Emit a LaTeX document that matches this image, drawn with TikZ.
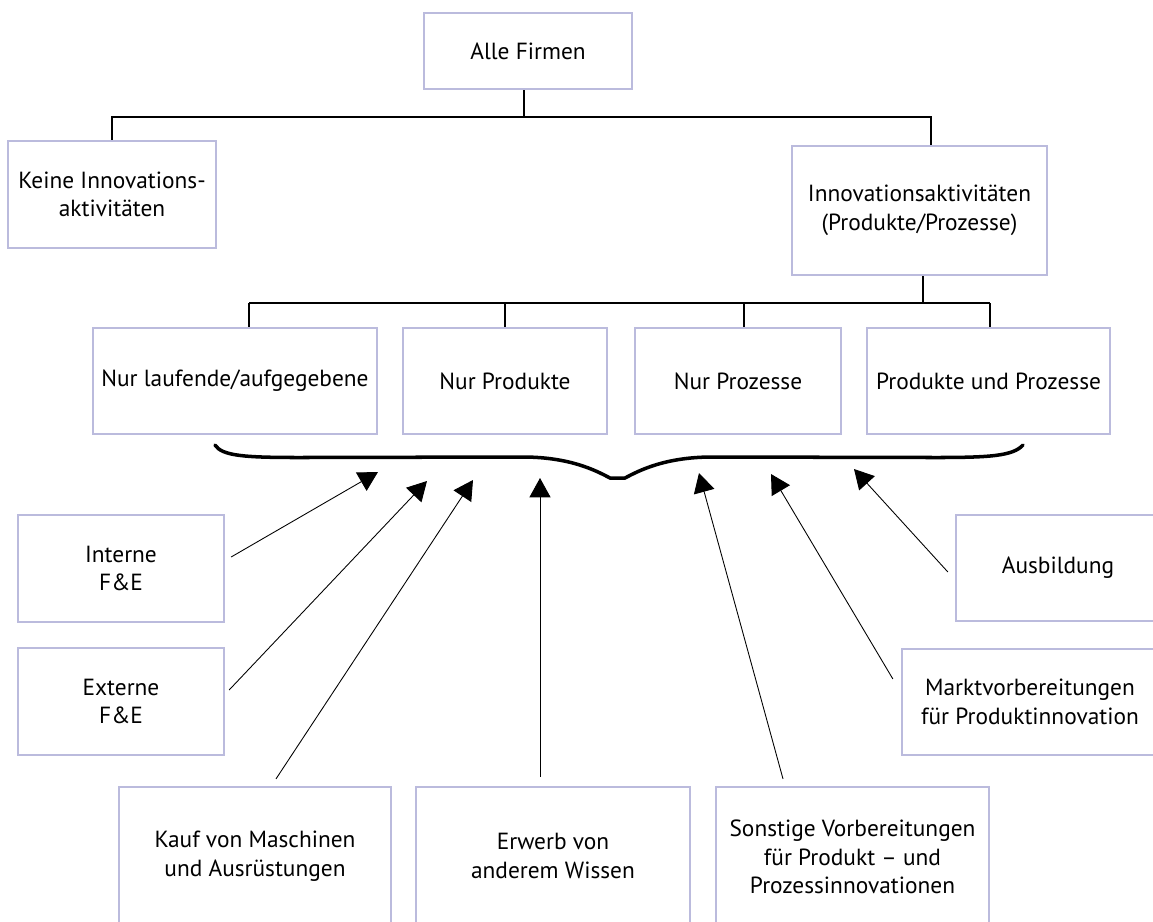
\documentclass[tikz,border=0pt]{standalone}
\usepackage{fontspec}
\setmainfont{PT Sans}
\usetikzlibrary{arrows.meta}
\definecolor{boxline}{RGB}{187,187,221}

\begin{document}
\begin{tikzpicture}[x=0.02cm,y=-0.02cm,
  box/.style={draw=boxline,line width=1.3pt,align=center,inner sep=2pt,font=\fontsize{13.3}{16.3}\selectfont},
  tree/.style={line width=0.6pt},
  feed/.style={line width=0.5pt,-{Triangle[length=11pt,width=12pt]}}]
\useasboundingbox (0,0) rectangle (1153,921);
\clip (0,0) rectangle (1153,921);

\node[box,minimum width=4.16cm,minimum height=1.52cm] (alle) at (528,51) {Alle Firmen};
\node[box,minimum width=4.16cm,minimum height=2.14cm] (keine) at (112,194.5) {Keine Innovations-\\aktivitäten};
\node[box,minimum width=5.10cm,minimum height=2.58cm] (innov) at (919.5,210.5) {Innovationsaktivitäten\\(Produkte/Prozesse)};

\node[box,minimum width=5.68cm,minimum height=2.12cm] (lauf) at (235,381) {Nur laufende/aufgegebene};
\node[box,minimum width=4.08cm,minimum height=2.12cm] (prod) at (505,381) {Nur Produkte};
\node[box,minimum width=4.12cm,minimum height=2.12cm] (proz) at (738,381) {Nur Prozesse};
\node[box,minimum width=4.86cm,minimum height=2.12cm] (pup) at (988.5,381) {Produkte und Prozesse};

\node[box,minimum width=4.12cm,minimum height=2.14cm] (int) at (121,568.5) {Interne\\F\&E};
\node[box,minimum width=4.12cm,minimum height=2.14cm] (ext) at (121,701.5) {Externe\\F\&E};
\node[box,minimum width=5.44cm,minimum height=2.76cm] (kauf) at (255,856) {Kauf von Maschinen\\und Ausrüstungen};
\node[box,minimum width=5.48cm,minimum height=2.76cm] (erw) at (553,856) {Erwerb von\\anderem Wissen};
\node[box,minimum width=5.46cm,minimum height=2.80cm] (sonst) at (852.5,857) {Sonstige Vorbereitungen\\für Produkt – und\\Prozessinnovationen};
\node[box,minimum width=5.12cm,minimum height=2.12cm] (markt) at (1030,702) {Marktvorbereitungen\\für Produktinnovation};
\node[box,minimum width=4.08cm,minimum height=2.12cm] (ausb) at (1058,568) {Ausbildung};

\coordinate (j1) at (524,117);
\coordinate (j2) at (931,117);
\draw[tree] (alle.south -| j1) -- (j1) -| (keine.north);
\draw[tree] (j1) -- (j2) -- (j2 |- innov.north);

\coordinate (j3) at (923,303);
\coordinate (d1) at (249,303);
\coordinate (d2) at (505,303);
\coordinate (d3) at (744,303);
\coordinate (d4) at (990,303);
\draw[tree] (innov.south -| j3) -- (j3);
\draw[tree] (d1) -- (d4);
\draw[tree] (d1) -- (d1 |- lauf.north);
\draw[tree] (d2) -- (d2 |- prod.north);
\draw[tree] (d3) -- (d3 |- proz.north);
\draw[tree] (d4) -- (d4 |- pup.north);

\draw[line width=2pt,line cap=round] (215,445) .. controls (222,456) and (245,457.5) .. (300,457.5) -- (525,457) .. controls (570,457.5) and (595,470) .. (610,478) -- (625,478) .. controls (640,470) and (665,457.5) .. (710,457) -- (935,457.5) .. controls (990,457.5) and (1013,456) .. (1023,445);

\coordinate (tA) at (378,472);
\coordinate (tB) at (427,481);
\coordinate (tC) at (473,480);
\coordinate (tD) at (540,478);
\coordinate (tE) at (699,473);
\coordinate (tF) at (771,474);
\coordinate (tG) at (854,469);

\draw[feed] ([shift={(6,-11.5)}]int.east) -- (tA);
\draw[feed] ([shift={(4,-11.5)}]ext.east) -- (tB);
\draw[feed] ([shift={(21,-7)}]kauf.north) -- (tC);
\draw[feed] ([shift={(-13,-9)}]erw.north) -- (tD);
\draw[feed] ([shift={(-69.5,-7)}]sonst.north) -- (tE);
\draw[feed] ([shift={(-8,-23)}]markt.west) -- (tF);
\draw[feed] ([shift={(-7,4)}]ausb.west) -- (tG);
\end{tikzpicture}
\end{document}
